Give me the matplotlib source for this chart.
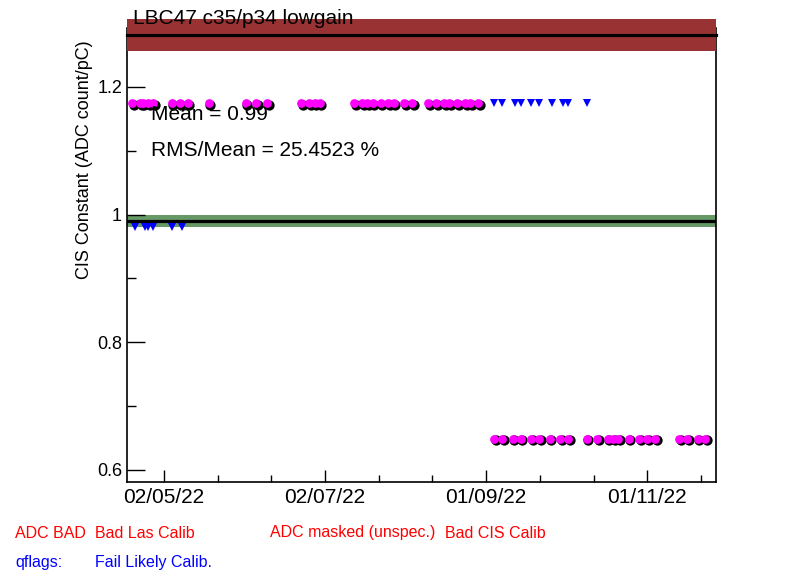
import numpy as np
import matplotlib
matplotlib.use("Agg")
import matplotlib.pyplot as plt
import matplotlib.dates as mdates
import matplotlib.transforms as mtransforms
from matplotlib.patches import Rectangle

plt.rcParams['font.family'] = ['Liberation Sans', 'DejaVu Sans']

# good calibrations, upper level
good_hi_dates = ["2022-04-20", "2022-04-23", "2022-04-24", "2022-04-26", "2022-04-28",
                 "2022-05-05", "2022-05-08", "2022-05-11", "2022-05-19",
                 "2022-06-02", "2022-06-06", "2022-06-10",
                 "2022-06-23", "2022-06-26", "2022-06-28", "2022-06-30",
                 "2022-07-13", "2022-07-16", "2022-07-18", "2022-07-20", "2022-07-23",
                 "2022-07-26", "2022-07-28", "2022-08-01", "2022-08-04",
                 "2022-08-10", "2022-08-13", "2022-08-16", "2022-08-18", "2022-08-21",
                 "2022-08-24", "2022-08-26", "2022-08-29"]
good_hi_val = 1.175

# good calibrations, lower level
good_lo_dates = ["2022-09-04", "2022-09-07", "2022-09-11", "2022-09-14", "2022-09-18",
                 "2022-09-21", "2022-09-25", "2022-09-29", "2022-10-02",
                 "2022-10-09", "2022-10-13", "2022-10-17", "2022-10-19", "2022-10-21",
                 "2022-10-25", "2022-10-29", "2022-11-01", "2022-11-04",
                 "2022-11-13", "2022-11-16", "2022-11-20", "2022-11-23"]
good_lo_val = 0.649

# flagged (fail likely calib)
flag_hi_dates = ["2022-09-04", "2022-09-07", "2022-09-12", "2022-09-14", "2022-09-18",
                 "2022-09-21", "2022-09-26", "2022-09-30", "2022-10-02", "2022-10-09"]
flag_hi_val = 1.175
flag_lo_dates = ["2022-04-21", "2022-04-25", "2022-04-26", "2022-04-28", "2022-05-05", "2022-05-09"]
flag_lo_val = 0.98

mean_val = 0.99
mean_band = (0.98, 1.0)
ref_val = 1.281
ref_band = (1.256, 1.306)

major_dates = ["2022-05-02", "2022-07-02", "2022-09-01", "2022-11-01"]
major_labels = ["02/05/22", "02/07/22", "01/09/22", "01/11/22"]
x_range = ("2022-04-18", "2022-11-27")

fig = plt.figure(figsize=(7.96, 5.74), dpi=100)
ax = fig.add_axes([0.1595, 0.1603, 0.74, 0.7909])

def d(lst):
    return np.array(lst, dtype="datetime64[D]")

# bands drawn in axes-x / data-y coords
blend = mtransforms.blended_transform_factory(ax.transAxes, ax.transData)
ax.add_patch(Rectangle((0, ref_band[0]), 1, ref_band[1] - ref_band[0], transform=blend,
                       facecolor="#993333", edgecolor="none", clip_on=False, zorder=3))
ax.add_patch(Rectangle((0, mean_band[0]), 1, mean_band[1] - mean_band[0], transform=blend,
                       facecolor="#669966", edgecolor="none", clip_on=False, zorder=1))
ax.plot([0, 1], [ref_val, ref_val], transform=blend, color="black", lw=2.3, clip_on=False, zorder=4)
ax.plot([0, 1], [mean_val, mean_val], transform=blend, color="black", lw=2.3, zorder=2)

shadow = mtransforms.offset_copy(ax.transData, fig=fig, x=1.6, y=-1.6, units="dots")
for dates, val in [(good_hi_dates, good_hi_val), (good_lo_dates, good_lo_val)]:
    x = d(dates)
    y = np.full(len(x), val)
    ax.plot(x, y, "o", color="black", ms=7.4, mew=0, transform=shadow, zorder=5)
    ax.plot(x, y, "o", color="#ff00ff", ms=6.3, mew=0, zorder=6)

for dates, val in [(flag_hi_dates, flag_hi_val), (flag_lo_dates, flag_lo_val)]:
    x = d(dates)
    ax.plot(x, np.full(len(x), val), "v", color="#0000ff", ms=5.8, mew=0, zorder=6)

ax.set_xlim(np.datetime64(x_range[0]), np.datetime64(x_range[1]))
ax.set_ylim(0.5812, 1.2924)

maj = mdates.date2num(d(major_dates))
step = (maj[1] - maj[0]) / 3
minors = [m + k * step for m in maj for k in (1, 2)]
ax.set_xticks(maj)
ax.set_xticklabels(major_labels)
ax.set_xticks([m for m in minors if m < mdates.date2num(np.datetime64(x_range[1]))], minor=True)
ax.set_yticks([0.6, 0.8, 1.0, 1.2])
ax.set_yticklabels(["0.6", "0.8", "1", "1.2"])
ax.set_yticks([0.7, 0.9, 1.1], minor=True)

ax.tick_params(axis="both", which="both", direction="in", colors="black")
ax.tick_params(axis="y", which="major", length=13, width=1, pad=3.5, labelsize=13)
ax.tick_params(axis="y", which="minor", length=6.5, width=1)
ax.tick_params(axis="x", which="major", length=8.6, width=1, pad=4, labelsize=15)
ax.tick_params(axis="x", which="minor", length=5, width=1)
ax.spines["top"].set_visible(False)
for s in ["left", "bottom", "right"]:
    ax.spines[s].set_linewidth(1.2)

ax.set_ylabel("CIS Constant (ADC count/pC)", fontsize=13)
ax.yaxis.set_label_coords(-0.058, 0.709)

fig.text(133 / 796, 1 - 18 / 574, "LBC47 c35/p34 lowgain", fontsize=15, va="center", ha="left")
fig.text(151 / 796, 1 - 115 / 574, "Mean = 0.99", fontsize=15, va="center", ha="left")
fig.text(151 / 796, 1 - 151 / 574, "RMS/Mean = 25.4523 %", fontsize=15, va="center", ha="left")

fig.text(15 / 796, 1 - 533 / 574, "ADC BAD", fontsize=11.5, color="red", va="center")
fig.text(95 / 796, 1 - 533 / 574, "Bad Las Calib", fontsize=11.5, color="red", va="center")
fig.text(270 / 796, 1 - 533 / 574, "ADC masked (unspec.)", fontsize=11.5, color="red", va="center")
fig.text(445 / 796, 1 - 533 / 574, "Bad CIS Calib", fontsize=11.5, color="red", va="center")
fig.text(15 / 796, 1 - 562 / 574, "qflags:", fontsize=11.5, color="blue", va="center")
fig.text(95 / 796, 1 - 562 / 574, "Fail Likely Calib.", fontsize=11.5, color="blue", va="center")

fig.savefig("out.png", dpi=100)
